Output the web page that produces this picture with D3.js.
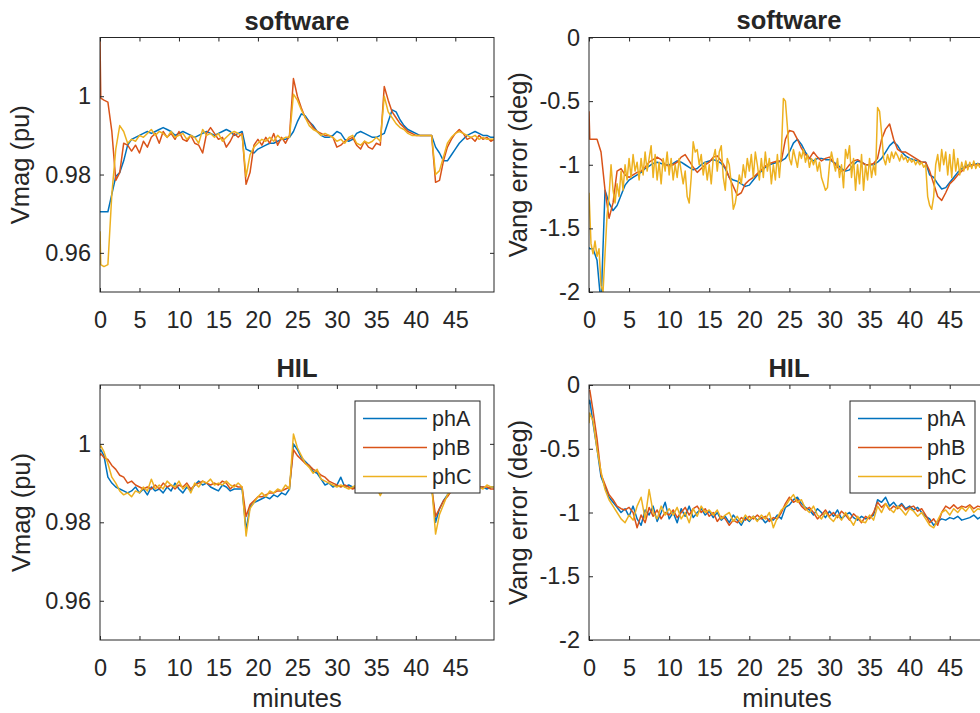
<!DOCTYPE html>
<html><head><meta charset="utf-8">
<script src="https://cdn.jsdelivr.net/npm/d3@7"></script>
<style>
body{margin:0;background:#fff;}
svg{display:block;}
text{font-family:Arial,"Liberation Sans",Helvetica,sans-serif;fill:#262626;}
</style>
</head><body><svg id="c" width="980" height="713"></svg>
<script>
// ---------------- data ----------------
const minutes = [0, 0.1,
 0.5,1,1.5,2,2.5,3,3.5,4,4.5,5,
 5.5,6,6.5,7,7.5,8,8.5,9,9.5,10,
 10.5,11,11.5,12,12.5,13,13.5,14,14.5,15,
 15.5,16,16.5,17,17.5,18,18.5,19,19.5,20,
 20.5,21,21.5,22,22.5,23,23.5,24,24.5,25,
 25.5,26,26.5,27,27.5,28,28.5,29,29.5,30,
 30.5,31,31.5,32,32.5,33,33.5,34,34.5,35,
 35.5,36,36.5,37,37.5,38,38.5,39,39.5,40,
 40.5,41,41.5,42,42.5,43,43.5,44,44.5,45,
 45.5,46,46.5,47,47.5,48,48.5,49,49.5,
 49.9];

// finer sampling used for the noisiest trace (software phC angle)
const minutesFine = [
 0,0.25,0.5,0.75,1,1.25,1.5,1.75,2,2.25,2.5,2.75,3,3.25,3.5,3.75,4,4.25,4.5,4.75,
 5,5.25,5.5,5.75,6,6.25,6.5,6.75,7,7.25,7.5,7.75,8,8.25,8.5,8.75,9,9.25,9.5,9.75,
 10,10.25,10.5,10.75,11,11.25,11.5,11.75,12,12.25,12.5,12.75,13,13.25,13.5,13.75,14,14.25,14.5,14.75,
 15,15.25,15.5,15.75,16,16.25,16.5,16.75,17,17.25,17.5,17.75,18,18.25,18.5,18.75,19,19.25,19.5,19.75,
 20,20.25,20.5,20.75,21,21.25,21.5,21.75,22,22.25,22.5,22.75,23,23.25,23.5,23.75,24,24.25,24.5,24.75,
 25,25.25,25.5,25.75,26,26.25,26.5,26.75,27,27.25,27.5,27.75,28,28.25,28.5,28.75,29,29.25,29.5,29.75,
 30,30.25,30.5,30.75,31,31.25,31.5,31.75,32,32.25,32.5,32.75,33,33.25,33.5,33.75,34,34.25,34.5,34.75,
 35,35.25,35.5,35.75,36,36.25,36.5,36.75,37,37.25,37.5,37.75,38,38.25,38.5,38.75,39,39.25,39.5,39.75,
 40,40.25,40.5,40.75,41,41.25,41.5,41.75,42,42.25,42.5,42.75,43,43.25,43.5,43.75,44,44.25,44.5,44.75,
 45,45.25,45.5,45.75,46,46.25,46.5,46.75,47,47.25,47.5,47.75,48,48.25,48.5,48.75,49,49.25,49.5,49.75,
 49.9];

const seriesNames = ["phA", "phB", "phC"];
const xTicks = [0,5,10,15,20,25,30,35,40,45];
const xTickLabels = ["0","5","10","15","20","25","30","35","40","45"];
const vmagTicks = [0.96, 0.98, 1];
const vmagTickLabels = ["0.96", "0.98", "1"];
const vangTicks = [-2, -1.5, -1, -0.5, 0];
const vangTickLabels = ["-2", "-1.5", "-1", "-0.5", "0"];

// software, Vmag (pu)
const swVmagA = [0.9705, 0.9705,
 0.9705, 0.9705, 0.975, 0.9795, 0.9805, 0.9835, 0.9875, 0.989, 0.9895, 0.990,
 0.9905, 0.991, 0.9905, 0.991, 0.9915, 0.992, 0.9915, 0.991, 0.990, 0.9905,
 0.991, 0.9905, 0.990, 0.9895, 0.990, 0.9905, 0.991, 0.9905, 0.990, 0.9905,
 0.991, 0.9915, 0.991, 0.990, 0.9905, 0.991, 0.9865, 0.986, 0.9855, 0.9865,
 0.987, 0.9875, 0.988, 0.988, 0.9885, 0.989, 0.989, 0.9895, 0.991, 0.9935,
 0.9955, 0.995, 0.9935, 0.9925, 0.991, 0.990, 0.9895, 0.9895, 0.990, 0.991,
 0.9905, 0.989, 0.9885, 0.989, 0.9905, 0.991, 0.9905, 0.990, 0.9895, 0.9895,
 0.990, 0.9905, 0.9935, 0.9965, 0.996, 0.994, 0.9925, 0.9915, 0.991, 0.9905,
 0.990, 0.990, 0.990, 0.990, 0.987, 0.9855, 0.9835, 0.9835, 0.985, 0.9865,
 0.988, 0.989, 0.990, 0.9905, 0.991, 0.9905, 0.990, 0.990, 0.9895,
 0.9895];
const swVmagB = [1.0145, 0.9995,
 0.9990, 0.9985, 0.991, 0.9785, 0.9805, 0.988, 0.9875, 0.986, 0.9875, 0.9855,
 0.9885, 0.987, 0.9895, 0.9905, 0.988, 0.991, 0.9895, 0.9905, 0.989, 0.991,
 0.989, 0.9885, 0.990, 0.988, 0.9875, 0.9855, 0.9905, 0.992, 0.9905, 0.989,
 0.9895, 0.987, 0.9885, 0.9905, 0.9895, 0.9905, 0.9775, 0.9805, 0.9875, 0.989,
 0.9875, 0.9895, 0.988, 0.9905, 0.9875, 0.9895, 0.988, 0.990, 1.0045, 1.000,
 0.997, 0.9945, 0.9935, 0.992, 0.991, 0.9905, 0.990, 0.990, 0.9895, 0.987,
 0.9875, 0.9885, 0.989, 0.9895, 0.9875, 0.9865, 0.9885, 0.987, 0.9865, 0.988,
 0.9875, 1.0025, 0.999, 0.996, 0.9945, 0.993, 0.992, 0.991, 0.9905, 0.990,
 0.990, 0.990, 0.990, 0.990, 0.978, 0.9785, 0.9835, 0.987, 0.989, 0.9905,
 0.9915, 0.9905, 0.989, 0.9895, 0.9885, 0.990, 0.989, 0.9895, 0.9885,
 0.989];
const swVmagC = [0.9655, 0.957,
 0.9565, 0.957, 0.975, 0.9865, 0.9925, 0.991, 0.988, 0.989, 0.9885, 0.990,
 0.9895, 0.9905, 0.9915, 0.990, 0.991, 0.9905, 0.9895, 0.991, 0.9895, 0.990,
 0.9905, 0.989, 0.990, 0.9895, 0.988, 0.9915, 0.990, 0.9905, 0.9895, 0.9905,
 0.9885, 0.9895, 0.9905, 0.991, 0.9905, 0.990, 0.9795, 0.985, 0.987, 0.988,
 0.989, 0.9885, 0.9895, 0.9885, 0.990, 0.989, 0.9895, 0.9895, 1.0005, 0.999,
 0.9965, 0.9945, 0.9925, 0.9915, 0.991, 0.990, 0.9905, 0.990, 0.9895, 0.9885,
 0.989, 0.988, 0.9895, 0.990, 0.988, 0.9875, 0.9885, 0.988, 0.9885, 0.9895,
 0.9885, 1.000, 0.996, 0.9945, 0.993, 0.992, 0.9915, 0.9905, 0.990, 0.990,
 0.990, 0.990, 0.990, 0.990, 0.980, 0.981, 0.9845, 0.988, 0.9895, 0.9905,
 0.991, 0.9905, 0.990, 0.9895, 0.990, 0.989, 0.9895, 0.989, 0.989,
 0.989];

// software, Vang error (deg)
const swVangA = [-1.65, -1.66,
 -1.66, -1.75, -2.1, -1.2, -1.3, -1.36, -1.32, -1.24, -1.16, -1.12,
 -1.1, -1.08, -1.06, -1.03, -1.01, -0.99, -0.98, -0.99, -1.0, -1.0,
 -0.99, -0.97, -0.98, -1.0, -1.02, -1.04, -1.03, -1.0, -0.98, -0.97,
 -0.96, -0.97, -0.99, -1.03, -1.1, -1.12, -1.13, -1.15, -1.17, -1.16,
 -1.12, -1.08, -1.05, -1.02, -1.0, -0.99, -0.98, -0.97, -0.95, -0.9,
 -0.83, -0.8, -0.84, -0.9, -0.95, -0.97, -0.95, -0.95, -0.96, -0.96,
 -0.98, -1.0, -1.03, -1.05, -1.04, -1.0, -0.97, -0.98, -1.0, -1.0,
 -1.0, -0.98, -0.95, -0.9, -0.85, -0.82, -0.85, -0.9, -0.93, -0.95,
 -0.96, -0.97, -0.98, -0.98, -1.08, -1.1, -1.15, -1.19, -1.18, -1.14,
 -1.1, -1.06, -1.03, -1.01, -1.0, -1.0, -0.99, -1.0, -1.0,
 -1.0];
const swVangB = [-0.58, -0.8,
 -0.8, -0.8, -0.9, -1.2, -1.42, -1.3, -1.05, -1.03, -1.08, -1.1,
 -1.08, -1.06, -1.05, -1.02, -0.98, -0.96, -0.94, -0.96, -1.0, -1.01,
 -1.0, -0.98, -0.94, -0.92, -0.97, -1.02, -1.06, -1.03, -1.0, -0.98,
 -0.94, -0.93, -0.97, -1.02, -1.1, -1.17, -1.24, -1.22, -1.15, -1.12,
 -1.1, -1.07, -1.04, -1.01, -0.99, -0.98, -0.97, -0.97, -0.8, -0.73,
 -0.74, -0.8, -0.87, -0.92, -0.95, -0.9, -0.94, -0.97, -0.95, -0.94,
 -0.98, -1.02, -1.05, -1.04, -1.0, -0.97, -0.96, -0.98, -1.0, -1.0,
 -0.99, -0.95, -0.8, -0.72, -0.68, -0.8, -0.88, -0.9, -0.9, -0.92,
 -0.94, -0.96, -0.98, -0.98, -1.05, -1.15, -1.25, -1.28, -1.22, -1.15,
 -1.12, -1.08, -1.05, -1.02, -1.01, -1.0, -1.0, -0.99, -1.0,
 -1.0];
// sampled on minutesFine
const swVangC = [
 -1.22, -1.62, -1.7, -1.6, -1.72, -1.66, -1.95, -2.0, -1.7, -1.4, -1.25, -1.0, -1.2, -1.3, -1.15, -1.25, -1.05, -1.2, -1.0, -1.12,
 -0.95, -1.1, -0.92, -1.05, -0.98, -1.12, -0.95, -1.08, -0.9, -1.05, -0.95, -0.85, -1.1, -0.92, -1.12, -0.98, -1.15, -0.95, -1.05, -0.9,
 -1.08, -0.95, -1.12, -1.0, -1.1, -0.95, -1.05, -1.15, -1.05, -1.25, -1.3, -1.1, -0.82, -0.9, -0.88, -1.0, -0.92, -1.08, -0.98, -1.12,
 -1.0, -1.15, -0.95, -0.88, -1.05, -0.9, -0.85, -1.1, -1.2, -0.95, -1.0, -1.15, -1.35, -1.3, -1.2, -1.08, -1.15, -1.0, -1.1, -0.95,
 -1.05, -0.92, -1.1, -0.9, -1.0, -1.12, -0.95, -1.1, -0.9, -1.05, -0.95, -1.15, -1.0, -1.12, -0.92, -1.1, -0.9, -0.48, -0.5, -0.7,
 -0.95, -1.0, -0.88, -0.95, -1.02, -0.9, -0.95, -0.88, -0.98, -0.92, -1.02, -0.95, -1.0, -0.95, -1.05, -0.98, -1.1, -1.15, -1.2, -1.18,
 -1.0, -0.9, -0.98, -1.05, -0.95, -1.1, -1.0, -1.18, -0.88, -0.95, -0.85, -1.1, -0.95, -1.2, -1.0, -1.15, -0.92, -1.2, -1.0, -1.12,
 -0.95, -1.1, -1.0, -1.08, -0.55, -0.58, -0.75, -0.95, -1.0, -0.92, -0.98, -0.9, -0.95, -0.9, -0.93, -0.97, -0.92, -0.96, -0.94, -0.98,
 -0.95, -0.98, -0.96, -1.0, -0.97, -1.0, -0.98, -1.02, -1.0, -1.25, -1.32, -1.35, -1.25, -1.0, -0.92, -1.05, -0.88, -1.0, -0.9, -1.08,
 -0.92, -1.1, -0.88, -1.05, -0.95, -1.08, -0.98, -1.05, -0.97, -1.04, -0.98, -1.03, -0.97, -1.03, -0.99, -1.02, -0.98, -1.02, -0.99, -1.01,
 -1.0];

// HIL, Vmag (pu)
const hilVmagA = [0.998, 0.9985,
 0.997, 0.9915, 0.990, 0.989, 0.9885, 0.988, 0.9875, 0.988, 0.989, 0.9875,
 0.9885, 0.987, 0.989, 0.988, 0.9885, 0.9875, 0.989, 0.988, 0.990, 0.9885,
 0.9875, 0.989, 0.988, 0.9895, 0.9905, 0.9895, 0.990, 0.989, 0.9885, 0.988,
 0.9895, 0.989, 0.988, 0.9885, 0.9885, 0.9885, 0.978, 0.984, 0.985, 0.9855,
 0.986, 0.9865, 0.986, 0.987, 0.9865, 0.9875, 0.987, 0.9885, 1.0, 0.9985,
 0.9965, 0.9955, 0.9945, 0.993, 0.9925, 0.991, 0.9895, 0.990, 0.989, 0.9895,
 0.9915, 0.989, 0.9895, 0.989, 0.989, 0.9885, 0.989, 0.989, 0.9885, 0.989,
 0.9885, 0.989, 0.989, 0.9885, 0.989, 0.989, 0.9885, 0.989, 0.989, 0.989,
 0.989, 0.9885, 0.989, 0.989, 0.980, 0.9835, 0.9855, 0.987, 0.988, 0.9885,
 0.989, 0.9885, 0.989, 0.989, 0.9885, 0.989, 0.989, 0.9885, 0.989,
 0.989];
const hilVmagB = [0.997, 0.9975,
 0.9965, 0.996, 0.9945, 0.9935, 0.992, 0.9915, 0.990, 0.9905, 0.9895, 0.989,
 0.9885, 0.989, 0.9885, 0.9895, 0.9885, 0.990, 0.989, 0.9895, 0.9885, 0.9895,
 0.989, 0.990, 0.9885, 0.9895, 0.990, 0.9905, 0.990, 0.9895, 0.990, 0.9895,
 0.9905, 0.990, 0.9885, 0.9895, 0.989, 0.989, 0.9815, 0.9845, 0.9855, 0.9865,
 0.9865, 0.987, 0.9875, 0.9875, 0.988, 0.988, 0.9885, 0.989, 0.9985, 0.997,
 0.996, 0.995, 0.9945, 0.9935, 0.993, 0.992, 0.9915, 0.9905, 0.990, 0.9895,
 0.989, 0.9895, 0.989, 0.9885, 0.989, 0.989, 0.9885, 0.989, 0.989, 0.9885,
 0.989, 0.989, 0.9885, 0.989, 0.989, 0.989, 0.989, 0.9885, 0.989, 0.989,
 0.989, 0.989, 0.989, 0.989, 0.9815, 0.9835, 0.9855, 0.9865, 0.988, 0.9885,
 0.989, 0.989, 0.9895, 0.989, 0.9885, 0.989, 0.989, 0.989, 0.9885,
 0.9885];
const hilVmagC = [0.999, 0.9995,
 0.998, 0.995, 0.9915, 0.990, 0.988, 0.987, 0.9875, 0.9865, 0.988, 0.9875,
 0.989, 0.988, 0.991, 0.9885, 0.9895, 0.9885, 0.9905, 0.9895, 0.989, 0.9905,
 0.9885, 0.9895, 0.9875, 0.990, 0.989, 0.9905, 0.990, 0.991, 0.9895, 0.990,
 0.9895, 0.9905, 0.9895, 0.989, 0.990, 0.989, 0.9765, 0.9835, 0.985, 0.9865,
 0.9875, 0.9865, 0.988, 0.9875, 0.9885, 0.988, 0.9895, 0.9885, 1.0025, 0.999,
 0.997, 0.995, 0.994, 0.9925, 0.9935, 0.991, 0.9905, 0.990, 0.9895, 0.989,
 0.9895, 0.989, 0.9885, 0.989, 0.9895, 0.989, 0.9885, 0.989, 0.9885, 0.989,
 0.9868, 0.989, 0.989, 0.9885, 0.989, 0.989, 0.989, 0.9885, 0.989, 0.989,
 0.989, 0.989, 0.989, 0.9895, 0.977, 0.982, 0.9845, 0.987, 0.988, 0.9885,
 0.9895, 0.9885, 0.989, 0.9895, 0.989, 0.989, 0.9885, 0.9895, 0.989,
 0.989];

// HIL, Vang error (deg)
const hilVangA = [-0.15, -0.12,
 -0.3, -0.5, -0.72, -0.8, -0.88, -0.92, -0.96, -1.0, -0.97, -1.03,
 -0.95, -1.05, -1.1, -0.98, -1.02, -0.95, -1.07, -1.0, -0.92, -1.05,
 -1.0, -1.08, -0.97, -1.03, -0.95, -1.04, -1.0, -0.97, -1.02, -0.99,
 -1.04, -1.0, -1.06, -1.03, -1.08, -1.02, -1.06, -1.1, -1.04, -1.07,
 -1.03, -1.06, -1.04, -1.08, -1.05, -1.06, -1.02, -1.05, -0.96, -0.94,
 -0.9, -0.88, -0.93, -0.96, -0.98, -1.02, -0.97, -1.0, -1.04, -0.99,
 -1.03, -0.98, -1.05, -1.02, -1.0, -1.04, -1.06, -1.03, -1.05, -1.04,
 -1.02, -0.9, -0.92, -0.88, -0.95, -0.92, -0.96, -0.93, -0.97, -0.95,
 -0.98, -0.96, -1.0, -1.03, -1.05, -1.1, -1.07, -1.05, -1.06, -1.04,
 -1.05, -1.03, -1.06, -1.05, -1.04, -1.02, -1.05, -1.03, -1.02,
 -1.02];
const hilVangB = [-0.05, -0.04,
 -0.2, -0.42, -0.7, -0.78, -0.86, -0.9, -0.95, -0.97, -0.98, -0.96,
 -1.0, -1.12, -1.02, -1.08, -0.96, -1.03, -0.98, -1.05, -1.0, -1.02,
 -0.98, -1.04, -1.0, -0.96, -1.02, -0.97, -0.95, -1.0, -0.97, -1.03,
 -1.0, -1.07, -1.03, -1.05, -1.1, -1.06, -1.08, -1.04, -1.06, -1.03,
 -1.05, -1.02, -1.05, -1.03, -1.07, -1.04, -1.05, -1.0, -0.93, -0.88,
 -0.92, -0.9, -0.95, -0.98, -0.96, -1.0, -1.05, -1.02, -0.98, -1.03,
 -1.0, -1.04, -0.99, -1.02, -1.06, -1.01, -1.04, -1.08, -1.03, -1.05,
 -1.0, -0.92, -0.96, -0.93, -0.98, -0.95, -0.97, -0.94, -0.98, -0.96,
 -0.95, -0.99, -0.97, -1.02, -1.08, -1.05, -1.1, -1.0, -0.95, -0.97,
 -0.94, -0.97, -0.95, -0.96, -0.94, -0.97, -0.95, -0.96, -0.98,
 -0.97];
const hilVangC = [-0.3, -0.22,
 -0.28, -0.5, -0.68, -0.82, -0.9, -0.95, -1.0, -1.05, -1.08, -1.02,
 -1.06, -0.95, -0.88, -1.05, -0.82, -1.0, -1.05, -0.95, -1.02, -0.97,
 -1.02, -0.96, -1.05, -1.0, -1.08, -0.97, -1.03, -0.95, -1.0, -0.98,
 -1.02, -0.98, -1.05, -1.02, -1.0, -1.07, -1.03, -1.08, -1.02, -1.06,
 -1.03, -1.07, -1.02, -1.05, -1.0, -1.12, -1.04, -0.98, -0.95, -0.9,
 -0.86, -0.92, -0.9, -0.97, -1.0, -0.95, -1.02, -1.05, -1.0, -1.04,
 -1.07, -1.02, -1.06, -1.0, -1.05, -1.1, -1.03, -1.07, -1.08, -1.02,
 -1.06, -0.95, -1.0, -0.93, -0.97, -1.0, -0.95, -0.98, -1.02, -0.97,
 -0.99, -1.03, -1.0, -1.05, -1.1, -1.12, -1.06, -1.0, -0.98, -1.02,
 -0.97, -1.0, -0.96, -0.99, -0.95, -1.0, -0.97, -0.98, -0.96,
 -0.97];

// ---------------- layout / style ----------------
const colors = ["#0072BD", "#D95319", "#EDB120"];
const axisColor = "#262626";
const tickFont = 23.5, labelFont = 25.5, titleFont = 25.5, legendFont = 21.5;

const panels = [
  {title: "software", ylabel: "Vmag (pu)",
   series: [[minutes, swVmagA], [minutes, swVmagB], [minutes, swVmagC]],
   yDomain: [0.95, 1.015], yTicks: vmagTicks, yLabels: vmagTickLabels,
   left: 100, top: 37.5, right: 494, bottom: 292, ylabX: 29, titleY: 30, legend: false, xlabel: false},
  {title: "software", ylabel: "Vang error (deg)",
   series: [[minutes, swVangA], [minutes, swVangB], [minutesFine, swVangC]],
   yDomain: [-2, 0], yTicks: vangTicks, yLabels: vangTickLabels,
   left: 589, top: 37.5, right: 989, bottom: 292, ylabX: 527, titleY: 29, legend: false, xlabel: false},
  {title: "HIL", ylabel: "Vmag (pu)",
   series: [[minutes, hilVmagA], [minutes, hilVmagB], [minutes, hilVmagC]],
   yDomain: [0.95, 1.015], yTicks: vmagTicks, yLabels: vmagTickLabels,
   left: 100, top: 385, right: 494, bottom: 640, ylabX: 30, titleY: 377, legend: true, xlabel: true},
  {title: "HIL", ylabel: "Vang error (deg)",
   series: [[minutes, hilVangA], [minutes, hilVangB], [minutes, hilVangC]],
   yDomain: [-2, 0], yTicks: vangTicks, yLabels: vangTickLabels,
   left: 589, top: 385, right: 989, bottom: 640, ylabX: 527, titleY: 377, legend: true, xlabel: true}
];

const svg = d3.select("#c");

panels.forEach((p, pi) => {
  const x = d3.scaleLinear().domain(d3.extent(minutes)).range([p.left, p.right]);
  const y = d3.scaleLinear().domain(p.yDomain).range([p.bottom, p.top]);
  const g = svg.append("g");

  const clipId = "clip" + pi;
  svg.append("defs").append("clipPath").attr("id", clipId)
    .append("rect").attr("x", p.left).attr("y", p.top)
    .attr("width", p.right - p.left).attr("height", p.bottom - p.top);

  // lines
  const line = d3.line().x(d => x(d[0])).y(d => y(d[1]));
  const lg = g.append("g").attr("clip-path", `url(#${clipId})`);
  p.series.forEach(([ts, vals], si) => {
    const n = Math.min(ts.length, vals.length);
    const pts = d3.range(n).map(i => [ts[i], vals[i]]);
    lg.append("path").datum(pts)
      .attr("d", line)
      .attr("fill", "none")
      .attr("stroke", colors[si])
      .attr("stroke-width", 1.5)
      .attr("stroke-linejoin", "round");
  });

  // axes (ticks inward, box)
  const xb = d3.axisBottom(x).tickValues(xTicks).tickSizeInner(-4).tickSizeOuter(0)
    .tickPadding(19).tickFormat((d, i) => xTickLabels[i]);
  const xt = d3.axisTop(x).tickValues(xTicks).tickSizeInner(-4).tickSizeOuter(0).tickFormat("");
  const yl = d3.axisLeft(y).tickValues(p.yTicks).tickSizeInner(-4).tickSizeOuter(0)
    .tickPadding(9).tickFormat((d, i) => p.yLabels[i]);
  const yr = d3.axisRight(y).tickValues(p.yTicks).tickSizeInner(-4).tickSizeOuter(0).tickFormat("");

  const ax = [
    g.append("g").attr("transform", `translate(0,${p.bottom})`).call(xb),
    g.append("g").attr("transform", `translate(0,${p.top})`).call(xt),
    g.append("g").attr("transform", `translate(${p.left},0)`).call(yl),
    g.append("g").attr("transform", `translate(${p.right},0)`).call(yr)
  ];
  ax.forEach(a => {
    a.select(".domain").remove();
    a.selectAll("line").attr("stroke", axisColor).attr("stroke-width", 1);
    a.selectAll("text").attr("font-size", tickFont)
      .attr("font-family", 'Arial,"Liberation Sans",sans-serif').attr("fill", axisColor);
  });

  g.append("rect").attr("x", p.left).attr("y", p.top)
    .attr("width", p.right - p.left).attr("height", p.bottom - p.top)
    .attr("fill", "none").attr("stroke", axisColor).attr("stroke-width", 1);

  // title
  g.append("text").attr("x", (p.left + p.right) / 2).attr("y", p.titleY)
    .attr("text-anchor", "middle").attr("font-weight", "bold")
    .attr("font-size", titleFont).text(p.title);

  // y label
  const cy = (p.top + p.bottom) / 2;
  g.append("text").attr("transform", `translate(${p.ylabX},${cy}) rotate(-90)`)
    .attr("text-anchor", "middle").attr("font-size", labelFont).text(p.ylabel);

  // x label
  if (p.xlabel) {
    g.append("text").attr("x", (p.left + p.right) / 2 + (pi === 3 ? -2 : 0))
      .attr("y", 707).attr("text-anchor", "middle")
      .attr("font-size", labelFont).text("minutes");
  }

  // legend
  if (p.legend) {
    const lx = p.right - 139, ly = p.top + 16, lw = 125, lh = 92;
    const leg = g.append("g");
    leg.append("rect").attr("x", lx).attr("y", ly).attr("width", lw).attr("height", lh)
      .attr("fill", "#fff").attr("stroke", axisColor).attr("stroke-width", 1);
    seriesNames.forEach((nm, i) => {
      const ry = ly + 17.5 + i * 29;
      leg.append("line").attr("x1", lx + 8).attr("x2", lx + 72)
        .attr("y1", ry).attr("y2", ry)
        .attr("stroke", colors[i]).attr("stroke-width", 1.5);
      leg.append("text").attr("x", lx + 77).attr("y", ry)
        .attr("dominant-baseline", "central")
        .attr("font-size", legendFont).text(nm);
    });
  }
});
</script>
</body></html>
